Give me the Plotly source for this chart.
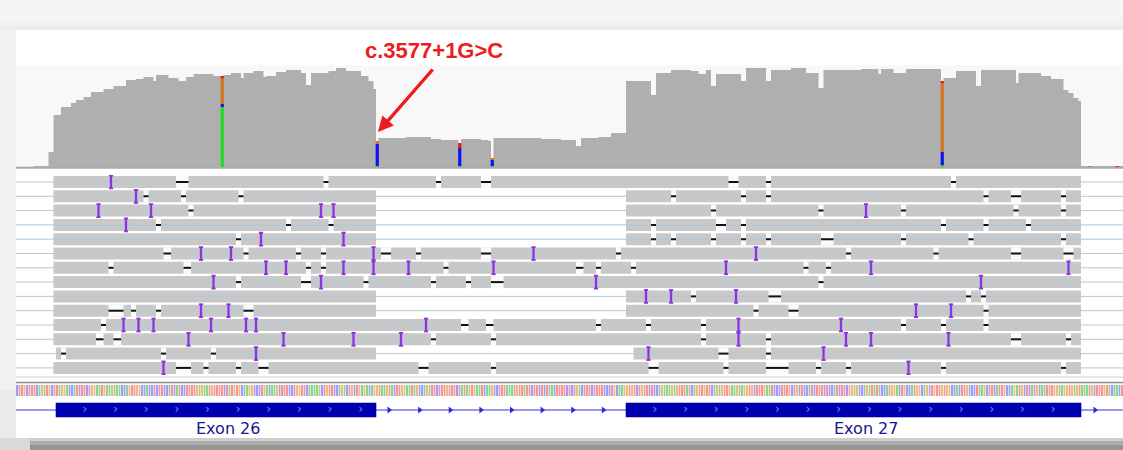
import plotly.graph_objects as go

W, H = 1123, 450
WIN = 442.8  # window width in bp

# ---------------- coverage track (bp offset, depth) ----------------
COV_POS = [0, 7, 13, 15, 18, 22, 24, 27, 30, 35, 39, 44, 48, 51, 55, 56, 61, 65, 68, 71, 79,
           83, 86, 90, 91, 95, 99, 100, 104, 108, 114, 116, 118, 125, 128, 132, 138, 141, 143,
           144, 145, 156, 166, 170, 177, 178, 186, 189, 190, 191, 210, 218, 224, 226, 233, 238,
           244, 254, 256, 262, 270, 273, 276, 278, 280, 290, 292, 300, 302, 310, 316,
           321, 323, 338, 345, 346, 351, 356, 370, 371, 376, 384, 386, 400, 401, 410, 414, 419,
           421, 423, 425, 426]
COV_DEPTH = [0, 1, 15, 52, 60, 64, 67, 70, 75, 78, 81, 87, 88, 90, 86, 92, 89, 86, 90, 93, 91,
             92, 94, 89, 94, 96, 90, 91, 95, 97, 94, 82, 94, 96, 99, 96, 91, 86, 78,
             26, 29, 30, 28, 27, 24, 28, 27, 26, 9, 29, 28, 27, 21, 29, 30, 34,
             86, 72, 94, 97, 96, 93, 97, 81, 93, 86, 99, 86, 97, 99, 94,
             79, 97, 98, 93, 98, 94, 98, 86, 89, 96, 81, 97, 84, 94, 91, 88, 77,
             74, 69, 66, 1]

# mismatch columns: allele counts stacked A, C, G, T
VAR_POS = [82, 144, 177, 190, 370, 429, 440]
VAR_A = [60, 1, 1, 1, 2, 0, 0]
VAR_C = [3, 22, 18, 6, 13, 0, 0]
VAR_G = [26, 3, 0, 2, 69, 1, 0]
VAR_T = [2, 0, 5, 0, 2, 0, 1]

# ---------------- alignments ----------------
READS = [
    [(15, 426)],
    [(15, 144), (244, 426)],
    [(15, 144), (244, 426)],
    [(15, 144), (244, 426)],
    [(15, 144), (244, 426)],
    [(15, 426)],
    [(15, 426)],
    [(15, 426)],
    [(15, 144), (244, 426)],
    [(15, 144), (244, 426)],
    [(15, 426)],
    [(15, 426)],
    [(16, 144), (247, 426)],
    [(15, 426)],
]

# (row, start, length)
DELETIONS = [
    (0, 64, 5), (0, 123, 2), (0, 168, 2), (0, 186, 4), (0, 285, 4), (0, 300, 2), (0, 374, 2),
    (1, 51, 2), (1, 66, 2), (1, 89, 2), (1, 262, 2), (1, 290, 2), (1, 300, 2), (1, 387, 2),
    (1, 398, 4), (1, 418, 2),
    (2, 69, 2), (2, 278, 2), (2, 321, 2), (2, 354, 2), (2, 399, 2), (2, 418, 2),
    (3, 56, 2), (3, 108, 2), (3, 125, 2), (3, 254, 2), (3, 280, 4), (3, 290, 2), (3, 370, 2),
    (3, 387, 2), (3, 404, 2),
    (4, 88, 2), (4, 254, 2), (4, 262, 2), (4, 278, 2), (4, 290, 2), (4, 300, 2), (4, 322, 5),
    (4, 354, 2), (4, 381, 2), (4, 418, 2),
    (5, 59, 3), (5, 91, 2), (5, 112, 2), (5, 122, 2), (5, 146, 4), (5, 160, 2), (5, 186, 4),
    (5, 240, 2), (5, 332, 2), (5, 367, 2), (5, 398, 4), (5, 419, 4),
    (6, 37, 2), (6, 67, 3), (6, 116, 2), (6, 122, 2), (6, 171, 2), (6, 224, 3), (6, 232, 2),
    (6, 246, 2), (6, 315, 2), (6, 324, 2),
    (7, 88, 2), (7, 114, 4), (7, 139, 2), (7, 166, 2), (7, 180, 2), (7, 190, 5), (7, 321, 2),
    (8, 270, 2), (8, 301, 5), (8, 380, 2), (8, 386, 2),
    (9, 37, 6), (9, 46, 2), (9, 56, 2), (9, 91, 4), (9, 295, 2), (9, 309, 4), (9, 387, 2),
    (10, 34, 2), (10, 178, 3), (10, 188, 3), (10, 232, 2), (10, 252, 2), (10, 274, 2),
    (10, 354, 2), (10, 370, 2), (10, 387, 2),
    (11, 32, 3), (11, 39, 3), (11, 166, 2), (11, 190, 2), (11, 274, 2), (11, 300, 2),
    (11, 398, 4), (11, 420, 2),
    (12, 18, 2), (12, 58, 2), (12, 78, 2), (12, 281, 4), (12, 300, 2),
    (13, 64, 6), (13, 75, 2), (13, 88, 2), (13, 97, 4), (13, 161, 4), (13, 190, 2),
    (13, 253, 4), (13, 283, 2), (13, 300, 9), (13, 320, 2), (13, 332, 2), (13, 370, 2),
    (13, 418, 2),
]

# (row, position)
INSERTIONS = [
    (0, 38),
    (1, 48),
    (2, 33), (2, 54), (2, 122), (2, 127), (2, 340),
    (3, 44),
    (4, 98), (4, 131),
    (5, 74), (5, 86), (5, 143), (5, 207), (5, 296),
    (6, 100), (6, 108), (6, 131), (6, 143), (6, 157), (6, 191), (6, 284), (6, 342), (6, 421),
    (7, 79), (7, 122), (7, 232), (7, 386),
    (8, 252), (8, 262), (8, 288),
    (9, 74), (9, 85), (9, 360), (9, 374),
    (10, 43), (10, 49), (10, 55), (10, 78), (10, 92), (10, 96), (10, 164), (10, 289), (10, 330),
    (11, 69), (11, 107), (11, 135), (11, 154), (11, 289), (11, 332), (11, 342), (11, 373),
    (12, 96), (12, 253), (12, 323),
    (13, 59), (13, 357),
]

# ---------------- reference sequence ----------------
SEQ = ("CTTGCTTTCAGATGCTTAGGACCATCTTCTGGAATGAAGAAACCAGTTGG"
       "CCACCTCTTCCATCATCCTTTTGAGAATGTTTTCTATGTGCAAGGCCCTG"
       "ACAAGCTTTCCTGGTTCAAAAGCTGTTCCAGACTGCTGAGACAGGTAAGT"
       "ACTTGGAATAGCCAGATTCTTTGTTTCTATAGTGAATCAAGCCTTTAAAT"
       "GTTATTCTTCTCTAACTTTTCTCTGACTTTCTTTTCCCTGCAAGGTGTCT"
       "GTTCTCCAGAAAGAGTTTATCAGTTGTTCAGAGTTGAAGAAGGTGCTTTG"
       "AATCCCTTTGCTGCTCCATCTTTCTCCATCTTCGGAGCCAGATATACCAT"
       "GGACTGCCATGGCAGCTGTTGTGGCCACTTGCCCTAAGCTTCATTGCCAG"
       "ATGCTCATGCAATTTGGAAGGTGAGTAAATGCTTTGTACAACT")

# ---------------- gene model ----------------
EXON_START = [16, 244]
EXON_END = [144, 426]
EXON_NAME = ["Exon 26", "Exon 27"]

VARIANT_LABEL = "c.3577+1G>C"
VARIANT_SITE = 144

BASE_COLORS = {"A": "#1fdc1f", "C": "#1212ee", "G": "#d2731e", "T": "#ee1414"}
SEQ_COLORS = {"A": "#8ed48e", "C": "#9d9dfc", "G": "#ebbd86", "T": "#f29696"}
READ_GREY = "#c8c8c8"
INS_COLOR = "#8a33e0"


def py(px):
    """Convert a pixel row (from top) into a paper fraction."""
    return 1 - px / H


fig = go.Figure()

# coverage histogram
fig.add_trace(go.Scatter(
    x=COV_POS + [WIN], y=COV_DEPTH + [COV_DEPTH[-1]], mode="lines", line_shape="hv",
    fill="tozeroy", fillcolor="#afafaf", line=dict(width=0, color="#afafaf"),
    hoverinfo="skip"))

# mismatch columns, stacked A/C/G/T, drawn as thick vertical strokes
base_acc = [0] * len(VAR_POS)
for base, counts in (("A", VAR_A), ("C", VAR_C), ("G", VAR_G), ("T", VAR_T)):
    vx, vy = [], []
    for p, b0, c in zip(VAR_POS, base_acc, counts):
        if c > 0:
            vx += [p + 0.5, p + 0.5, None]
            vy += [b0, b0 + c, None]
    fig.add_trace(go.Scatter(x=vx, y=vy, mode="lines", hoverinfo="skip",
                             line=dict(color=BASE_COLORS[base], width=3.2)))
    base_acc = [a + c for a, c in zip(base_acc, counts)]

# row guide lines (visible across introns and margins)
gx, gy = [], []
for r in range(len(READS)):
    gx += [0, WIN, None]
    gy += [r, r, None]
fig.add_trace(go.Scatter(x=gx, y=gy, yaxis="y2", mode="lines",
                         line=dict(color="#b3c9da", width=1), hoverinfo="skip"))

# alignment blocks
rb, rl, rr = [], [], []
for r, segs in enumerate(READS):
    for s, e in segs:
        rb.append(s)
        rl.append(e - s)
        rr.append(r)
fig.add_trace(go.Bar(orientation="h", y=rr, x=rl, base=rb, width=0.84, yaxis="y2",
                     marker=dict(color=READ_GREY, line=dict(width=0)), hoverinfo="skip"))

# deletions: gap in the read plus a black bar
fig.add_trace(go.Bar(orientation="h", y=[d[0] for d in DELETIONS], x=[d[2] for d in DELETIONS],
                     base=[d[1] for d in DELETIONS], width=0.86, yaxis="y2",
                     marker=dict(color="#fbfbfb", line=dict(width=0)), hoverinfo="skip"))
dx, dy = [], []
for r, s, l in DELETIONS:
    dx += [s, s + l, None]
    dy += [r, r, None]
fig.add_trace(go.Scatter(x=dx, y=dy, yaxis="y2", mode="lines",
                         line=dict(color="#111111", width=2), hoverinfo="skip"))

# insertions: purple I-beams
ix, iy, sx, sy = [], [], [], []
for r, p in INSERTIONS:
    ix += [p, p, None]
    iy += [r - 0.45, r + 0.45, None]
    for yy in (r - 0.45, r + 0.45):
        sx += [p - 0.85, p + 0.85, None]
        sy += [yy, yy, None]
fig.add_trace(go.Scatter(x=ix, y=iy, yaxis="y2", mode="lines",
                         line=dict(color=INS_COLOR, width=2.3), hoverinfo="skip"))
fig.add_trace(go.Scatter(x=sx, y=sy, yaxis="y2", mode="lines",
                         line=dict(color=INS_COLOR, width=1.8), hoverinfo="skip"))

# reference sequence
codes = {"A": 0, "C": 1, "G": 2, "T": 3}
fig.add_trace(go.Heatmap(
    z=[[codes[b] for b in SEQ]], x=[i + 0.5 for i in range(len(SEQ))], y=[0], yaxis="y3",
    zmin=0, zmax=3, showscale=False, xgap=0.6, hoverinfo="skip",
    colorscale=[[0, SEQ_COLORS["A"]], [0.2, SEQ_COLORS["A"]], [0.2, SEQ_COLORS["C"]],
                [0.5, SEQ_COLORS["C"]], [0.5, SEQ_COLORS["G"]], [0.8, SEQ_COLORS["G"]],
                [0.8, SEQ_COLORS["T"]], [1, SEQ_COLORS["T"]]]))

# strand arrows on the intronic line and inside exons
step = 12.25
intron_arrows = []
p = EXON_END[0] + 5.2
while p < EXON_START[1] - 6:
    intron_arrows.append(p)
    p += step
p = EXON_END[1] + 5.6
while p < WIN - 3:
    intron_arrows.append(p)
    p += step
fig.add_trace(go.Scatter(x=intron_arrows, y=[0] * len(intron_arrows), yaxis="y4",
                         mode="markers", hoverinfo="skip",
                         marker=dict(symbol="triangle-right", size=6, color="#2b2bd6",
                                     line=dict(width=0))))
chev = []
for s, e in zip(EXON_START, EXON_END):
    p = s + 11.6
    while p < e - 3:
        chev.append(p)
        p += step
fig.add_trace(go.Scatter(x=chev, y=[0] * len(chev), yaxis="y4", mode="text", text=["›"] * len(chev),
                         textfont=dict(family="DejaVu Sans", size=12, color="#8585e6"),
                         hoverinfo="skip"))

# ---------------- decoration shapes ----------------
shapes = []


def rect(x0, y0, x1, y1, color, layer="below"):
    shapes.append(dict(type="rect", xref="paper", yref="paper", x0=x0 / W, x1=x1 / W,
                       y0=py(y1), y1=py(y0), fillcolor=color, line=dict(width=0), layer=layer))


def hline(y, x0, x1, color, width):
    shapes.append(dict(type="line", xref="paper", yref="paper", x0=x0 / W, x1=x1 / W,
                       y0=py(y), y1=py(y), line=dict(color=color, width=width), layer="below"))


rect(0, 20, W, 30, "#f1f1f1")
rect(0, 26, W, 30, "#ececec")
rect(0, 30, 16, 438, "#f2f2f2")
rect(0, 390, 16, 438, "#eaeaea")
rect(16, 30, W, 438, "#ffffff")
rect(16, 65, W, 167, "#f8f8f8")
rect(0, 438, W, 441, "#cdcdcd")
rect(0, 441, W, 445, "#acacac")
rect(0, 445, W, 450, "#969696")
rect(0, 438, 30, 450, "#d9d9d9")
hline(167.8, 16, W, "#a9a9a9", 2)
hline(377, 16, W, "#cfcfcf", 1)
hline(382.5, 16, W, "#8c8c8c", 1.5)

# gene backbone and exon boxes
shapes.append(dict(type="line", xref="x", yref="y4", x0=0, x1=WIN, y0=0, y1=0,
                   line=dict(color="#3636d6", width=1.2), layer="below"))
for s, e in zip(EXON_START, EXON_END):
    shapes.append(dict(type="rect", xref="x", yref="y4", x0=s, x1=e, y0=-0.58, y1=0.58,
                       fillcolor="#0000b2", line=dict(color="#00009a", width=0.6), layer="below"))

annotations = []
for s, e, name in zip(EXON_START, EXON_END, EXON_NAME):
    annotations.append(dict(x=(s + e) / 2, y=py(428), xref="x", yref="paper", text=name,
                            showarrow=False, xshift=12, yanchor="middle",
                            font=dict(family="DejaVu Sans", size=16, color="#17178e")))

annotations.append(dict(x=VARIANT_SITE + 0.8, y=35, xref="x", yref="y", ax=56, ay=-64,
                        showarrow=True, arrowhead=2, arrowsize=0.9, arrowwidth=3.4,
                        arrowcolor="#ee1c1c", standoff=0, text=""))
annotations.append(dict(x=(434 - 16) / 2.5, y=py(50), xref="x", yref="paper",
                        text=VARIANT_LABEL, showarrow=False, yanchor="middle",
                        font=dict(family="Liberation Sans", size=22, color="#ee1c1c",
                                  weight="bold")))

ax_common = dict(visible=False, fixedrange=True)
fig.update_layout(
    width=W, height=H, margin=dict(l=0, r=0, t=0, b=0),
    paper_bgcolor="#f5f5f5", plot_bgcolor="rgba(0,0,0,0)",
    showlegend=False, barmode="overlay",
    xaxis=dict(domain=[16 / W, 1], range=[0, WIN], **ax_common),
    yaxis=dict(domain=[py(167), py(66)], range=[0, 101], anchor="x", **ax_common),
    yaxis2=dict(domain=[py(375.05), py(174.85)], range=[13.5, -0.5], anchor="x", **ax_common),
    yaxis3=dict(domain=[py(396), py(385)], range=[-0.5, 0.5], anchor="x", **ax_common),
    yaxis4=dict(domain=[py(422), py(398)], range=[-1, 1], anchor="x", **ax_common),
    shapes=shapes, annotations=annotations,
)

fig.write_html("out.html")
